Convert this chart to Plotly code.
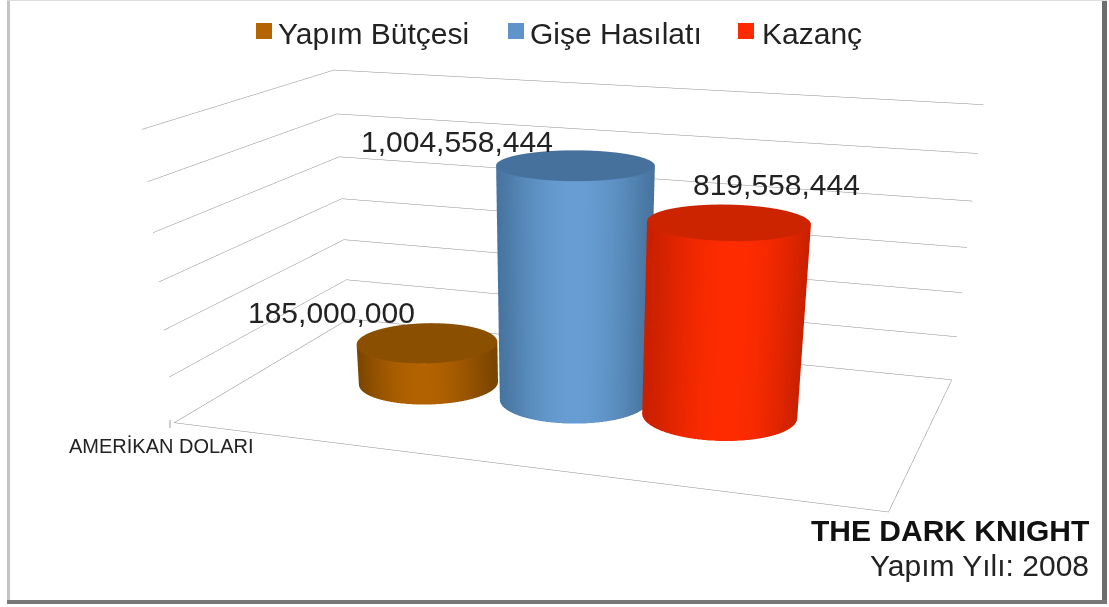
import numpy as np
import plotly.graph_objects as go

# Chart data
categories = ["Yapım Bütçesi", "Gişe Hasılatı", "Kazanç"]
values = [185000000, 1004558444, 819558444]

# Cylinder placement on the floor, in axis units
bar_x = [0.2635, 0.4945, 0.7117]
bar_y = [0.5119, 0.5077, 0.5111]
bar_r = [0.1038, 0.1081, 0.1095]

# Cylinder and legend colours
side_edge = ["#7a4500", "#47749f", "#c92000"]
side_mid = ["#b36200", "#679dd3", "#ff2b00"]
cap_colour = ["#8a5000", "#47719d", "#cc2400"]
swatch = ["#b56500", "#5f93c9", "#ff2b00"]

# Value label offsets from the centre of each cap, in pixels
label_dx = [-96, -118, 48]
label_dy = [30, 24, 38]

# Legend layout, in pixels from the top left
legend_text_x = [276, 528, 760]
legend_swatch_x = [256, 508, 738]

Z_MAX = 1.2e9
Z_STEP = 2e8
WIDTH = 1109
GRID = "#8c8c8c"

# Plotly's 3D field of view is fixed, so a canvas taller than the window is
# what flattens the perspective; the lower part of the page stays out of view.
CANVAS_HEIGHT = 1400

aspect = dict(x=1.6515, y=0.9285, z=0.6521)
camera = dict(
    eye=dict(x=1.2542, y=-3.7049, z=0.9584),
    center=dict(x=-0.1438, y=0.2465, z=-1.2919),
    up=dict(x=0, y=0, z=1),
    projection=dict(type="perspective"),
)


def px(x):
    return x / WIDTH


def py(y):
    return 1 - y / CANVAS_HEIGHT


fig = go.Figure()
theta = np.linspace(0, 2 * np.pi, 181)
flat = dict(ambient=1, diffuse=0, specular=0, fresnel=0, roughness=1)
view = np.hypot(camera["eye"]["x"], camera["eye"]["y"])

# Each cylinder is a shaded wall plus a flat cap at the height of its value
for i, v in enumerate(values):
    rx = bar_r[i]
    ry = bar_r[i] * aspect["x"] / aspect["y"]
    ring_x = bar_x[i] + rx * np.cos(theta)
    ring_y = bar_y[i] + ry * np.sin(theta)
    facing = (np.cos(theta) * camera["eye"]["x"] + np.sin(theta) * camera["eye"]["y"]) / view
    shade = np.clip(facing, 0, 1) ** 2.8
    fig.add_trace(go.Surface(
        x=np.vstack([ring_x, ring_x]),
        y=np.vstack([ring_y, ring_y]),
        z=np.vstack([np.zeros_like(ring_x), np.full_like(ring_x, v)]),
        surfacecolor=np.vstack([shade, shade]),
        cmin=0, cmax=1,
        colorscale=[[0, side_edge[i]], [1, side_mid[i]]],
        showscale=False, hoverinfo="skip", lighting=flat,
    ))
    spoke = np.array([0.0, 1.0])
    cap_x = bar_x[i] + rx * np.outer(spoke, np.cos(theta))
    cap_y = bar_y[i] + ry * np.outer(spoke, np.sin(theta))
    fig.add_trace(go.Surface(
        x=cap_x, y=cap_y, z=np.full_like(cap_x, v),
        surfacecolor=np.zeros_like(cap_x),
        cmin=0, cmax=1,
        colorscale=[[0, cap_colour[i]], [1, cap_colour[i]]],
        showscale=False, hoverinfo="skip", lighting=flat,
    ))

# Open edges of the floor
fig.add_trace(go.Scatter3d(
    x=[0, 0, 1, 1], y=[1, 0, 0, 1], z=[0, 0, 0, 0],
    mode="lines", line=dict(color=GRID, width=1),
    showlegend=False, hoverinfo="skip",
))

value_labels = [
    dict(x=bar_x[i], y=bar_y[i], z=v, text=f"{v:,}", showarrow=False,
         xshift=label_dx[i], yshift=label_dy[i],
         font=dict(family="Liberation Sans", size=30, color="#222"))
    for i, v in enumerate(values)
]

legend_labels = [
    dict(xref="paper", yref="paper", x=px(x), y=py(33), xanchor="left", yanchor="middle",
         text=c, showarrow=False, font=dict(size=30, color="#222"))
    for x, c in zip(legend_text_x, categories)
]
legend_swatches = [
    dict(type="rect", xref="paper", yref="paper", x0=px(x), x1=px(x + 16),
         y0=py(39), y1=py(23), fillcolor=c, line_width=0)
    for x, c in zip(legend_swatch_x, swatch)
]

axis = dict(showgrid=False, showbackground=False, showticklabels=False, showline=False,
            zeroline=False, showspikes=False, title="", ticks="")

fig.update_layout(
    width=WIDTH, height=CANVAS_HEIGHT,
    margin=dict(l=0, r=0, t=0, b=0),
    paper_bgcolor="white",
    showlegend=False,
    font=dict(family="Liberation Sans", color="#222"),
    scene=dict(
        domain=dict(x=[0, 1], y=[0, 1]),
        bgcolor="rgba(0,0,0,0)",
        xaxis=dict(axis, range=[0, 1]),
        yaxis=dict(axis, range=[0, 1]),
        zaxis=dict(axis, range=[0, Z_MAX], showgrid=True, gridcolor=GRID, gridwidth=1,
                   tick0=0, dtick=Z_STEP),
        aspectmode="manual",
        aspectratio=aspect,
        camera=camera,
        annotations=value_labels,
    ),
    annotations=legend_labels + [
        dict(xref="paper", yref="paper", x=px(67), y=py(446), xanchor="left", yanchor="middle",
             text="AMERİKAN DOLARI", showarrow=False, font=dict(size=20)),
        dict(xref="paper", yref="paper", x=px(1091), y=py(530), xanchor="right", yanchor="middle",
             text="<b>THE DARK KNIGHT</b>", showarrow=False, font=dict(size=30, color="#111")),
        dict(xref="paper", yref="paper", x=px(1091), y=py(565), xanchor="right", yanchor="middle",
             text="Yapım Yılı: 2008", showarrow=False, font=dict(size=30, color="#222")),
    ],
    shapes=legend_swatches + [
        # Tick below the front corner of the floor
        dict(type="line", xref="paper", yref="paper", x0=px(170), x1=px(170),
             y0=py(420), y1=py(428), line=dict(color="#a0a0a0", width=1)),
        # Panel frame with its drop shadow on the right and bottom
        dict(type="rect", xref="paper", yref="paper", x0=px(7), x1=px(10),
             y0=py(604), y1=1, fillcolor="#c4c4c4", line_width=0),
        dict(type="rect", xref="paper", yref="paper", x0=px(1102), x1=px(1107),
             y0=py(604), y1=1, fillcolor="#6e6e6e", line_width=0),
        dict(type="rect", xref="paper", yref="paper", x0=px(7), x1=px(1107),
             y0=py(604), y1=py(600), fillcolor="#777", line_width=0),
        dict(type="rect", xref="paper", yref="paper", x0=px(7), x1=px(1107),
             y0=py(1), y1=1, fillcolor="#ddd", line_width=0),
    ],
)

fig.write_html(
    "out.html",
    post_script="document.documentElement.style.overflow='hidden';document.body.style.overflow='hidden';",
)
